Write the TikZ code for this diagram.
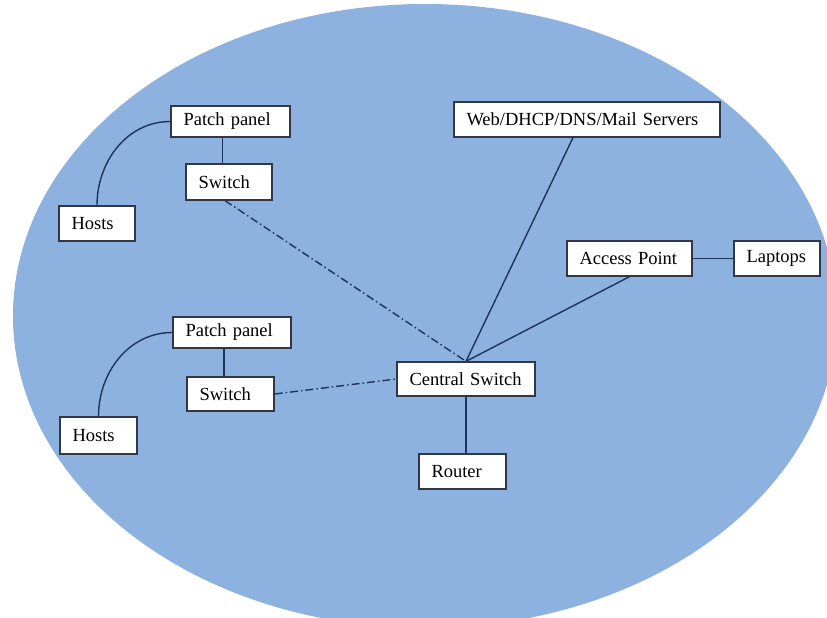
\documentclass[tikz,border=0pt]{standalone}
\usepackage{fontspec}
\setmainfont{Liberation Serif}
\usetikzlibrary{calc}
\definecolor{lanfill}{RGB}{141,178,224}
\definecolor{wire}{RGB}{30,52,90}
\definecolor{boxedge}{RGB}{50,55,70}
\tikzset{
  devbox/.style={draw=boxedge, line width=1.3pt, fill=white, rectangle,
    inner xsep=12.5pt, inner ysep=0pt, align=left,
    font=\fontsize{18.5}{22}\selectfont},
  link/.style={draw=wire, line width=1.4pt},
  uplink/.style={draw=wire, line width=1.4pt,
    dash pattern=on 8pt off 3pt on 1.5pt off 3pt},
}
% place a device box by centre, width and height (in px units)
\newcommand{\devnode}[6]{%
  \node[devbox, minimum width=#4pt, minimum height=#5pt,
        text width=#4pt-25pt] (#1) at (#2,#3) {#6};}
\begin{document}
\begin{tikzpicture}[x=1pt,y=-1pt]
  \useasboundingbox (0,0) rectangle (827,618);
  \clip (0,0) rectangle (827,618);
  % campus LAN area
  \fill[lanfill] (425,316) ellipse [x radius=412, y radius=312];

  % device boxes
  \devnode{pp1}{230.5}{121.5}{119}{31}{Patch panel}
  \devnode{sw1}{229}{182}{86}{36}{Switch}
  \devnode{h1}{97}{223.5}{76}{35}{Hosts}
  \devnode{web}{587}{119.5}{266}{35}{Web/DHCP/DNS/Mail Servers}
  \devnode{ap}{629.5}{258.5}{125}{35}{Access Point}
  \devnode{lap}{777}{258.5}{86}{35}{Laptops}
  \devnode{pp2}{232}{332.5}{118}{31}{Patch panel}
  \devnode{sw2}{230.5}{394}{87}{34}{Switch}
  \devnode{h2}{98.5}{435.5}{77}{37}{Hosts}
  \devnode{cs}{466}{379}{138}{34}{Central Switch}
  \devnode{rt}{462.5}{471.5}{87}{35}{Router}

  % cabling
  \draw[link] ([xshift=-6.5pt]sw1.north) -- ([xshift=-6.5pt]sw1.north |- pp1.south);
  \draw[link] ([xshift=-6.5pt]sw2.north) -- ([xshift=-6.5pt]sw2.north |- pp2.south);
  \draw[link] (pp1.west) to[out=180,in=90] (h1.north);
  \draw[link] (pp2.west) to[out=180,in=90] (h2.north);
  \draw[link] ([xshift=-14pt]web.south) -- (cs.north);
  \draw[link] (ap.south) -- (cs.north);
  \draw[link] (ap.east) -- (lap.west);
  \draw[link] (cs.south) -- (cs.south |- rt.north);
  \draw[uplink] ([xshift=-4pt]sw1.south) -- (cs.north);
  \draw[uplink] (sw2.east) -- (cs.west);
\end{tikzpicture}
\end{document}
